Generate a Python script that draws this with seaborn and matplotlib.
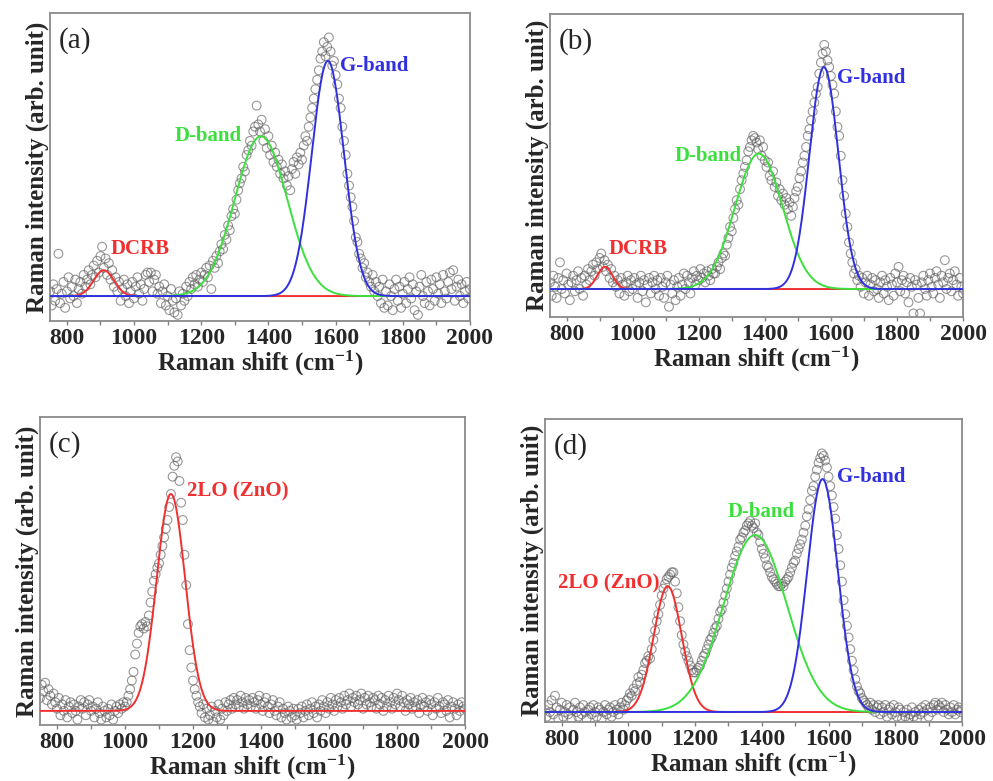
import numpy as np
import matplotlib
matplotlib.use("Agg")
import matplotlib.pyplot as plt
import seaborn as sns

# Raman shift of the measured points (cm-1), a point every 5 cm-1
shift = np.arange(750, 2001, 5)

# measured intensity, in % of the G-band fit height ((c): of the 2LO fit height)
int_a = [
    2, -4, 5, -2, 3, 18, -3, 1, 6, -5, 2, 8, -1, 4, 0, 7, -3, 3, 6, 1, 9, 4, 7, 11, 5,
    9, 13, 8, 15, 10, 17, 21, 12, 16, 9, 14, 7, 11, 4, 8, 2, 6, -2, 3, 7, 0, 5, -3, 2, 6,
    -1, 4, 8, 1, 5, -2, 3, 9, 10, 6, 10, 2, 7, 9, 1, 4, -3, 2, 5, -4, 0, -6, 3, -2, -7,
    -1, -8, 2, -4, 1, -2, 4, 0, 6, 3, 8, 5, 9, 4, 7, 10, 6, 9, 12, 8, 13, 3, 15, 12, 17,
    14, 19, 22, 20, 26, 24, 30, 28, 34, 37, 35, 41, 45, 48, 50, 55, 53, 60, 62, 66, 64, 70, 72, 81, 73,
    70, 75, 66, 71, 63, 68, 60, 64, 57, 61, 55, 58, 52, 56, 50, 53, 47, 51, 45, 54, 57, 52, 59, 56, 61,
    58, 64, 68, 66, 72, 76, 80, 84, 88, 92, 96, 101, 104, 108, 102, 106, 110, 104, 98, 100, 94, 90, 84, 80, 72,
    66, 60, 52, 47, 42, 38, 32, 25, 23, 18, 16, 12, 14, 8, 10, 6, 4, 9, 2, 6, 0, 4, -3, 7, -5,
    2, -4, 5, 0, -6, 3, 7, -2, 4, -5, 1, 6, -3, 3, 8, -1, 5, -6, 2, -8, 4, 9, 0, -3, 6,
    2, -4, 7, 3, -2, 8, 1, 5, -3, 9, 2, -1, 6, 10, 3, 11, -2, 4, 7, 0, 5, -3, 2, 6, -1,
    3,
]
int_b = [
    3, -3, 6, 1, -4, 5, 12, 0, 4, -2, 7, 2, -5, 3, 6, -1, 4, 8, 0, 5, -3, 6, 2, 9, 4,
    8, 11, 6, 12, 9, 14, 16, 10, 13, 8, 11, 5, 9, 3, 6, 1, 4, -2, 5, 2, -3, 3, 6, -1, 4,
    0, 5, 2, -4, 3, 6, -1, 4, -6, 2, 5, -2, 3, 6, 0, 4, -3, 5, 1, -4, 3, 6, -8, 2, -2,
    4, -5, 1, 5, -3, 2, 7, 0, 6, 3, -2, 5, 8, 2, 6, 4, 9, 5, 7, 3, 8, 6, 4, 9, 7,
    7, 10, 12, 9, 14, 16, 15, 20, 23, 28, 26, 32, 36, 40, 38, 45, 49, 52, 55, 58, 62, 64, 67, 69, 68,
    66, 63, 67, 60, 64, 58, 55, 57, 51, 49, 53, 46, 48, 42, 45, 40, 43, 38, 41, 36, 39, 33, 37, 41, 44,
    46, 50, 53, 57, 60, 64, 69, 72, 76, 80, 84, 88, 91, 97, 102, 106, 110, 107, 103, 100, 96, 92, 88, 80, 73,
    69, 60, 49, 42, 34, 28, 21, 16, 12, 7, 9, 4, 6, 1, 5, -2, 3, 6, -3, 2, 5, -1, 4, 0, -4,
    3, 6, -2, 4, 1, -5, 5, 2, -3, 7, 3, 10, -1, 4, 6, -2, 3, -6, 5, 1, -11, 4, 2, -4, -11,
    3, 6, 0, -3, 4, 7, 1, -2, 5, 8, 2, -4, 6, 3, 13, 0, 5, 7, -1, 4, 8, 2, -3, 5, 1,
    -2,
]
int_c = [
    6, 12, 9, 13, 5, 10, 7, 3, 8, 4, 1, 6, -2, 3, 0, 5, -3, 2, 4, -1, 3, 0, -4, 2, 5,
    1, 4, -2, 3, 5, 0, 2, -3, 1, 4, -1, -4, 2, 0, -3, 1, -2, 3, -4, 0, 2, -1, 3, 1, 4,
    2, 4, 7, 10, 14, 18, 26, 31, 36, 39, 40, 38, 41, 39, 44, 50, 55, 60, 63, 66, 68, 72, 76, 80, 84,
    88, 94, 100, 108, 113, 117, 115, 106, 96, 88, 72, 58, 40, 28, 20, 14, 10, 7, 4, 2, -1, 3, -3, 1, -4,
    -2, 2, -5, 0, -3, 3, -4, 1, -2, 4, 0, 3, 5, 1, 6, 3, 5, 2, 7, 4, 1, 6, 3, 5, 2,
    6, 4, 1, 5, 7, 3, 0, 4, 6, 2, -1, 3, 5, 0, -2, 2, 4, -3, 1, -1, -4, 2, 0, -3, 1,
    -2, -4, 1, -1, 2, -3, 0, 3, -2, 1, 4, -1, 2, -3, 3, 0, 5, 2, -1, 4, 1, 6, 3, 0, 5,
    2, 6, 4, 1, 7, 3, 5, 8, 2, 6, 4, 7, 3, 5, 8, 1, 6, 3, 7, 4, 2, 6, 5, 1, 7,
    3, 6, 0, 5, 2, 7, 4, 1, 6, 3, 8, 5, 2, 7, 4, 0, 5, 3, 6, 1, 4, 2, 5, -1, 3,
    6, 2, 4, 0, 5, 3, -2, 4, 1, 6, 2, -1, 4, 3, 0, 5, -3, 2, 4, 1, -2, 3, 0, 4, 2,
    1,
]
int_d = [
    1, -2, 3, 0, 5, -1, 7, 2, -3, 1, 4, -2, 0, 3, -1, 2, -3, 1, 4, 0, -2, 2, -1, 3, 0,
    -3, 1, 2, -1, 3, 0, -2, 2, 1, -3, 0, 3, -1, 1, 2, -2, 0, 3, 1, -1, 2, 4, 1, 3, 5,
    6, 8, 7, 10, 9, 12, 15, 13, 16, 18, 21, 22, 24, 23, 27, 31, 35, 39, 42, 46, 50, 53, 55, 57, 58,
    59, 60, 60, 56, 51, 45, 39, 33, 29, 26, 24, 22, 20, 18, 17, 17, 18, 19, 20, 22, 24, 25, 27, 29, 31,
    32, 34, 36, 37, 40, 43, 44, 47, 50, 53, 56, 59, 62, 64, 67, 69, 71, 74, 75, 77, 78, 80, 81, 82, 80,
    79, 81, 77, 76, 73, 70, 68, 66, 63, 62, 60, 58, 57, 56, 55, 54, 54, 55, 54, 56, 57, 58, 60, 62, 64,
    65, 68, 70, 72, 74, 77, 80, 84, 87, 91, 95, 97, 101, 104, 107, 109, 111, 110, 108, 105, 101, 97, 93, 88, 83,
    76, 70, 63, 56, 48, 42, 37, 32, 27, 22, 18, 14, 11, 9, 8, 6, 5, 4, 3, 2, 4, 1, 3, 0, 2,
    3, -1, 2, 0, 3, -2, 1, 2, -1, 3, 0, -2, 2, 1, -3, 0, -2, 1, -3, -1, 2, -2, 0, -3, 1,
    -1, 2, 0, 3, 1, -2, 2, 0, 3, 4, 1, 3, 2, 4, 0, 3, 1, -1, 2, 0, 3, -1, 1, 2, 0,
    1,
]

# fitted Gaussian components: centre (cm-1), height (%), sigma (cm-1)
names_a = ["DCRB", "D-band", "G-band"]
centres_a = [910, 1378, 1577]
heights_a = [11, 68, 100]
sigmas_a = [30, 78, 48]

names_b = ["DCRB", "D-band", "G-band"]
centres_b = [916, 1382, 1579]
heights_b = [10, 61, 100]
sigmas_b = [23, 72, 44]

names_c = ["2LO (ZnO)"]
centres_c = [1135]
heights_c = [100]
sigmas_c = [42]

names_d = ["2LO (ZnO)", "D-band", "G-band"]
centres_d = [1118, 1380, 1582]
heights_d = [54, 76, 100]
sigmas_d = [42, 95, 46]

band_colors = {"DCRB": "#f03030", "2LO (ZnO)": "#f03030",
               "D-band": "#3ce03c", "G-band": "#3030e0"}

sns.set_style("white")
plt.rcParams["font.family"] = ["Liberation Serif", "DejaVu Serif"]
plt.rcParams["mathtext.fontset"] = "custom"
plt.rcParams["mathtext.rm"] = "Liberation Serif:bold"
plt.rcParams["mathtext.it"] = "Liberation Serif:bold"
plt.rcParams["mathtext.bf"] = "Liberation Serif:bold"

fig = plt.figure(figsize=(9.93, 7.81), dpi=100)

panels = [
    # tag, data, fit params, axes rect, ylim, label positions
    ("(a)", int_a, (names_a, centres_a, heights_a, sigmas_a),
     [0.0504, 0.5890, 0.4229, 0.3944], (-10.6, 120.4),
     {"DCRB": (929, 20, "left"), "D-band": (1322, 68, "right"), "G-band": (1613, 98, "left")}),
    ("(b)", int_b, (names_b, centres_b, heights_b, sigmas_b),
     [0.5539, 0.5941, 0.4159, 0.3880], (-12.6, 123.9),
     {"DCRB": (926, 18, "left"), "D-band": (1331, 60, "right"), "G-band": (1619, 95, "left")}),
    ("(c)", int_c, (names_c, centres_c, heights_c, sigmas_c),
     [0.0403, 0.0717, 0.4280, 0.3944], (-6.5, 135.5),
     {"2LO (ZnO)": (1182, 101, "left")}),
    ("(d)", int_d, (names_d, centres_d, heights_d, sigmas_d),
     [0.5488, 0.0755, 0.4200, 0.3880], (-4.3, 125.8),
     {"2LO (ZnO)": (789, 55, "left"), "D-band": (1296, 86, "left"), "G-band": (1626, 101, "left")}),
]

fit_x = np.linspace(750, 2000, 600)

for tag, y, (names, centres, heights, sigmas), rect, ylim, text_pos in panels:
    ax = fig.add_axes(rect)
    sns.scatterplot(x=shift, y=y, ax=ax, marker="o", s=40, fc="none",
                    ec="#606060", linewidth=0.8, alpha=0.65, zorder=2)
    for name, c, h, s in zip(names, centres, heights, sigmas):
        fit_y = h * np.exp(-(fit_x - c) ** 2 / (2 * s ** 2))
        sns.lineplot(x=fit_x, y=fit_y, ax=ax, color=band_colors[name],
                     linewidth=1.4, estimator=None, zorder=3)
        tx, ty, ha = text_pos[name]
        ax.text(tx, ty, name, color=band_colors[name], fontsize=15,
                fontweight="bold", ha=ha, va="center")

    ax.set_xlim(750, 2000)
    ax.set_ylim(*ylim)
    ax.set_xticks(range(800, 2001, 200))
    ax.set_xticks(range(800, 2001, 100), minor=True)
    ax.set_yticks([])
    ax.tick_params(axis="x", which="both", direction="out", length=3, width=1,
                   color="#808080", labelsize=17, pad=2, bottom=True)
    for lab in ax.get_xticklabels():
        lab.set_fontweight("bold")
    for sp in ax.spines.values():
        sp.set_color("#8a8a8a")
        sp.set_linewidth(1.3)

    ax.set_xlabel("Raman shift (cm$^{-1}$)", fontsize=18, fontweight="bold", labelpad=0)
    ax.set_ylabel("Raman intensity (arb. unit)", fontsize=18, fontweight="bold", labelpad=1)
    ax.text(0.02, 0.91, tag, transform=ax.transAxes, fontsize=21,
            fontweight="normal", ha="left", va="center")

fig.savefig("out.png", dpi=100)
